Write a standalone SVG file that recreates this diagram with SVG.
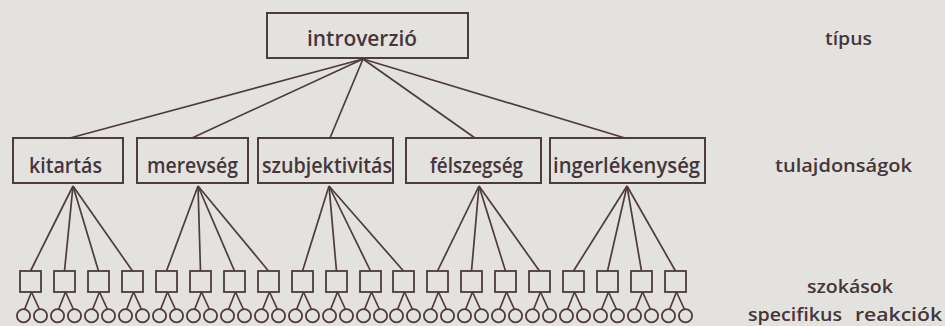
<svg xmlns="http://www.w3.org/2000/svg" width="945" height="326" viewBox="0 0 945 326">
  <style>
    .box { fill: none; stroke: #4d3b3d; stroke-width: 2; }
    .sq { fill: none; stroke: #4d3b3d; stroke-width: 1.8; }
    .leaf { fill: none; stroke: #4d3b3d; stroke-width: 1.8; }
    .edge { stroke: #4d3b3d; stroke-width: 1.7; fill: none; }
    .lbl { font-family: "Open Sans", Lato, sans-serif; font-size: 21px; font-weight: 600; fill: #45363a; text-anchor: middle; }
    .side { font-family: "Open Sans", Lato, sans-serif; font-size: 18px; font-weight: 600; fill: #45363a; text-anchor: middle; }
  </style>
  <rect x="0" y="0" width="945" height="326" fill="#e4e2de"/>

  <!-- connectors -->
  <g id="connectors" class="edge">
    <!-- type to traits -->
    <line x1="363" y1="59" x2="70" y2="138"/>
    <line x1="363" y1="59" x2="192" y2="138"/>
    <line x1="363" y1="59" x2="330" y2="138"/>
    <line x1="363" y1="59" x2="475" y2="138"/>
    <line x1="363" y1="59" x2="625" y2="138"/>
    <!-- traits to habits -->
    <line x1="73" y1="186" x2="30.5" y2="271"/>
    <line x1="73" y1="186" x2="64.5" y2="271"/>
    <line x1="73" y1="186" x2="98.5" y2="271"/>
    <line x1="73" y1="186" x2="132.5" y2="271"/>
    <line x1="198" y1="186" x2="166.5" y2="271"/>
    <line x1="198" y1="186" x2="200.5" y2="271"/>
    <line x1="198" y1="186" x2="234.5" y2="271"/>
    <line x1="198" y1="186" x2="268.5" y2="271"/>
    <line x1="329" y1="186" x2="302.5" y2="271"/>
    <line x1="329" y1="186" x2="336.5" y2="271"/>
    <line x1="329" y1="186" x2="370.5" y2="271"/>
    <line x1="329" y1="186" x2="403.5" y2="271"/>
    <line x1="479" y1="186" x2="437.5" y2="271"/>
    <line x1="479" y1="186" x2="471.5" y2="271"/>
    <line x1="479" y1="186" x2="505.5" y2="271"/>
    <line x1="479" y1="186" x2="539.5" y2="271"/>
    <line x1="627" y1="186" x2="573.5" y2="271"/>
    <line x1="627" y1="186" x2="607.5" y2="271"/>
    <line x1="627" y1="186" x2="641.5" y2="271"/>
    <line x1="627" y1="186" x2="675.5" y2="271"/>
  </g>

  <!-- type -->
  <g id="introverzio">
    <rect class="box" x="267" y="13" width="201" height="45"/>
    <text class="lbl" x="362" y="46" textLength="110" lengthAdjust="spacingAndGlyphs">introverzió</text>
  </g>

  <!-- traits -->
  <g id="kitartas">
    <rect class="box" x="13" y="138" width="110" height="45"/>
    <text class="lbl" x="65.5" y="173" textLength="73" lengthAdjust="spacingAndGlyphs">kitartás</text>
  </g>
  <g id="merevseg">
    <rect class="box" x="137" y="138" width="111" height="45"/>
    <text class="lbl" x="192.5" y="173" textLength="91" lengthAdjust="spacingAndGlyphs">merevség</text>
  </g>
  <g id="szubjektivitas">
    <rect class="box" x="258" y="138" width="135" height="45"/>
    <text class="lbl" x="327" y="173" textLength="130" lengthAdjust="spacingAndGlyphs">szubjektivitás</text>
  </g>
  <g id="felszegseg">
    <rect class="box" x="406" y="138" width="135" height="45"/>
    <text class="lbl" x="476.5" y="173" textLength="93" lengthAdjust="spacingAndGlyphs">félszegség</text>
  </g>
  <g id="ingerlekenyseg">
    <rect class="box" x="550" y="138" width="155" height="45"/>
    <text class="lbl" x="626.5" y="173" textLength="147" lengthAdjust="spacingAndGlyphs">ingerlékenység</text>
  </g>

  <!-- habits with their specific reactions -->
  <defs>
    <g id="habit">
      <rect class="sq" x="0" y="0" width="21" height="21"/>
      <line class="edge" x1="11.5" y1="21" x2="4.5" y2="38.5"/>
      <line class="edge" x1="11.5" y1="21" x2="19.5" y2="38.5"/>
      <circle class="leaf" cx="3.5" cy="44.8" r="6.6"/>
      <circle class="leaf" cx="20.5" cy="44.8" r="6.6"/>
    </g>
  </defs>
  <g id="habits">
    <use id="h1" href="#habit" x="20" y="271"/>
    <use id="h2" href="#habit" x="54" y="271"/>
    <use id="h3" href="#habit" x="88" y="271"/>
    <use id="h4" href="#habit" x="122" y="271"/>
    <use id="h5" href="#habit" x="156" y="271"/>
    <use id="h6" href="#habit" x="190" y="271"/>
    <use id="h7" href="#habit" x="224" y="271"/>
    <use id="h8" href="#habit" x="258" y="271"/>
    <use id="h9" href="#habit" x="292" y="271"/>
    <use id="h10" href="#habit" x="326" y="271"/>
    <use id="h11" href="#habit" x="360" y="271"/>
    <use id="h12" href="#habit" x="393" y="271"/>
    <use id="h13" href="#habit" x="427" y="271"/>
    <use id="h14" href="#habit" x="461" y="271"/>
    <use id="h15" href="#habit" x="495" y="271"/>
    <use id="h16" href="#habit" x="529" y="271"/>
    <use id="h17" href="#habit" x="563" y="271"/>
    <use id="h18" href="#habit" x="597" y="271"/>
    <use id="h19" href="#habit" x="631" y="271"/>
    <use id="h20" href="#habit" x="665" y="271"/>
  </g>

  <!-- level names -->
  <g id="levels">
    <text class="side" x="848.5" y="45" textLength="47" lengthAdjust="spacingAndGlyphs">típus</text>
    <text class="side" x="843.5" y="172" textLength="137" lengthAdjust="spacingAndGlyphs">tulajdonságok</text>
    <text class="side" x="850" y="293" textLength="86" lengthAdjust="spacingAndGlyphs">szokások</text>
    <text class="side" y="321" style="text-anchor:start"><tspan x="748" textLength="94" lengthAdjust="spacingAndGlyphs">specifikus</tspan><tspan x="855" textLength="87" lengthAdjust="spacingAndGlyphs">reakciók</tspan></text>
  </g>
</svg>
